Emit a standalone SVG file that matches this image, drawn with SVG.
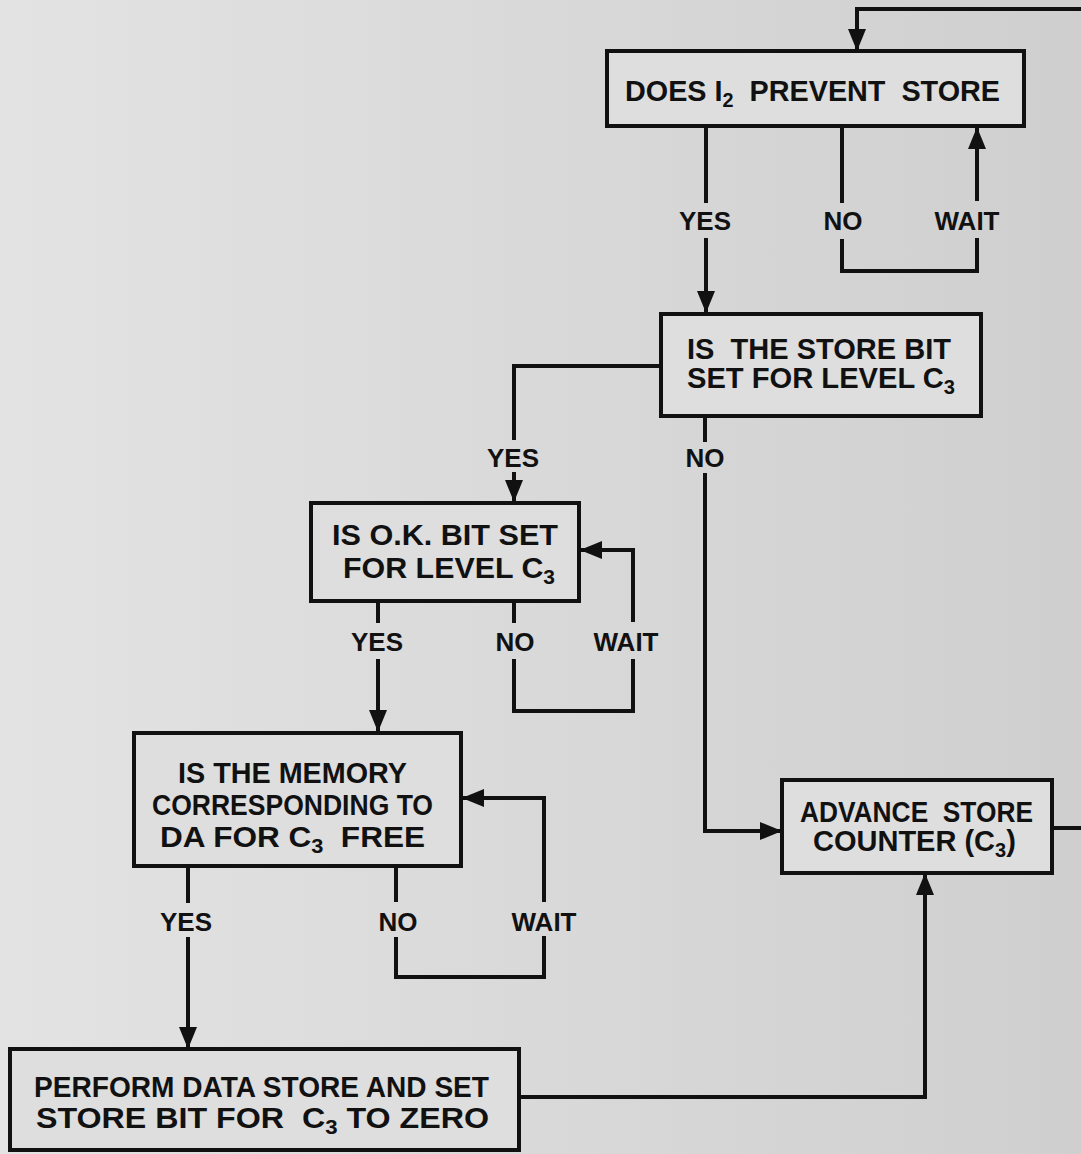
<svg xmlns="http://www.w3.org/2000/svg" width="1081" height="1154" viewBox="0 0 1081 1154">
  <defs>
    <linearGradient id="paper" x1="0" y1="0" x2="1" y2="0">
      <stop offset="0" stop-color="#e3e3e3"/>
      <stop offset="0.5" stop-color="#d9d9d9"/>
      <stop offset="1" stop-color="#cfcfcf"/>
    </linearGradient>
    <marker id="arrow" markerUnits="userSpaceOnUse" markerWidth="22" markerHeight="18" refX="22" refY="9" orient="auto">
      <path d="M0,0 L22,9 L0,18 Z" fill="#111"/>
    </marker>
    <style>
      .box { fill: #dedede; stroke: #111; stroke-width: 4; }
      .t { font-family: "Liberation Sans", Arial, sans-serif; font-weight: bold; font-size: 29px; fill: #111; }
      .lbl { font-family: "Liberation Sans", Arial, sans-serif; font-weight: bold; font-size: 26px; fill: #111; text-anchor: middle; }
      .sub { font-size: 20px; }
      .ln { fill: none; stroke: #111; stroke-width: 4; }
      .ar { marker-end: url(#arrow); }
    </style>
  </defs>

  <rect x="0" y="0" width="1081" height="1154" fill="url(#paper)"/>

  <g id="connectors">
    <path class="ln ar" d="M1081,9 H857 V51"/>
    <path class="ln" d="M706,127 V203"/>
    <path class="ln ar" d="M706,238 V313"/>
    <path class="ln" d="M842,127 V203"/>
    <path class="ln" d="M842,239 V271 H977 V238"/>
    <path class="ln ar" d="M977,201 V127"/>
    <path class="ln" d="M660,366 H514 V440"/>
    <path class="ln ar" d="M514,472 V502"/>
    <path class="ln" d="M705,416 V442"/>
    <path class="ln ar" d="M705,473 V831 H782"/>
    <path class="ln" d="M378,601 V623"/>
    <path class="ln ar" d="M378,659 V732"/>
    <path class="ln" d="M514,601 V623"/>
    <path class="ln" d="M514,659 V711 H633 V659"/>
    <path class="ln ar" d="M633,622 V550 H580"/>
    <path class="ln" d="M188,866 V903"/>
    <path class="ln ar" d="M188,937 V1049"/>
    <path class="ln" d="M396,866 V902"/>
    <path class="ln" d="M396,937 V977 H544 V936"/>
    <path class="ln ar" d="M544,902 V798 H462"/>
    <path class="ln ar" d="M520,1097 H925 V873"/>
    <path class="ln" d="M1052,828 H1081"/>
  </g>

  <g id="labels">
    <text class="lbl" x="705" y="230">YES</text>
    <text class="lbl" x="843" y="230">NO</text>
    <text class="lbl" x="967" y="230">WAIT</text>
    <text class="lbl" x="513" y="467">YES</text>
    <text class="lbl" x="705" y="467">NO</text>
    <text class="lbl" x="377" y="651">YES</text>
    <text class="lbl" x="515" y="651">NO</text>
    <text class="lbl" x="626" y="651">WAIT</text>
    <text class="lbl" x="186" y="931">YES</text>
    <text class="lbl" x="398" y="931">NO</text>
    <text class="lbl" x="544" y="931">WAIT</text>
  </g>

  <g id="node-prevent">
    <rect class="box" x="607" y="51" width="417" height="75"/>
    <text class="t" xml:space="preserve" x="625" y="101" textLength="375" lengthAdjust="spacingAndGlyphs">DOES I<tspan class="sub" dy="6">2</tspan><tspan dy="-6">  PREVENT  STORE</tspan></text>
  </g>

  <g id="node-storebit">
    <rect class="box" x="661" y="314" width="320" height="102"/>
    <text class="t" xml:space="preserve" x="687" y="359" textLength="264" lengthAdjust="spacingAndGlyphs">IS  THE STORE BIT</text>
    <text class="t" x="687" y="388" textLength="268" lengthAdjust="spacingAndGlyphs">SET FOR LEVEL C<tspan class="sub" dy="6">3</tspan></text>
  </g>

  <g id="node-okbit">
    <rect class="box" x="311" y="503" width="268" height="98"/>
    <text class="t" x="332" y="545" textLength="226" lengthAdjust="spacingAndGlyphs">IS O.K. BIT SET</text>
    <text class="t" x="343" y="578" textLength="212" lengthAdjust="spacingAndGlyphs">FOR LEVEL C<tspan class="sub" dy="6">3</tspan></text>
  </g>

  <g id="node-memory">
    <rect class="box" x="134" y="733" width="327" height="133"/>
    <text class="t" x="178" y="783" textLength="229" lengthAdjust="spacingAndGlyphs">IS THE MEMORY</text>
    <text class="t" x="152" y="815" textLength="281" lengthAdjust="spacingAndGlyphs">CORRESPONDING TO</text>
    <text class="t" xml:space="preserve" x="160" y="847" textLength="265" lengthAdjust="spacingAndGlyphs">DA FOR C<tspan class="sub" dy="6">3</tspan><tspan dy="-6">  FREE</tspan></text>
  </g>

  <g id="node-perform">
    <rect class="box" x="10" y="1049" width="509" height="101"/>
    <text class="t" x="34" y="1097" textLength="455" lengthAdjust="spacingAndGlyphs">PERFORM DATA STORE AND SET</text>
    <text class="t" xml:space="preserve" x="36" y="1128" textLength="453" lengthAdjust="spacingAndGlyphs">STORE BIT FOR  C<tspan class="sub" dy="6">3</tspan><tspan dy="-6"> TO ZERO</tspan></text>
  </g>

  <g id="node-advance">
    <rect class="box" x="782" y="780" width="270" height="93"/>
    <text class="t" xml:space="preserve" x="800" y="822" textLength="233" lengthAdjust="spacingAndGlyphs">ADVANCE  STORE</text>
    <text class="t" x="813" y="851">COUNTER (C<tspan class="sub" dy="6">3</tspan><tspan dy="-6">)</tspan></text>
  </g>
</svg>
